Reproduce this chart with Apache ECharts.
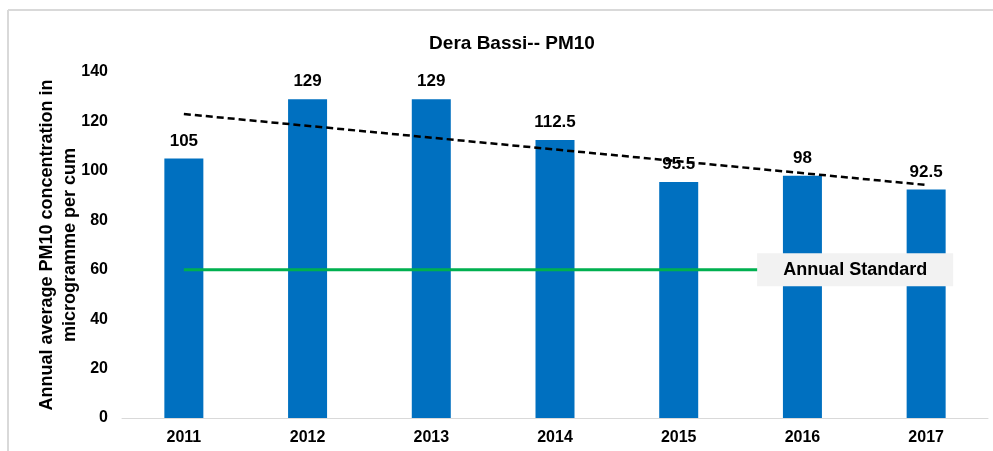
<!DOCTYPE html>
<html>
<head>
<meta charset="utf-8">
<script src="https://cdn.jsdelivr.net/npm/echarts@6/dist/echarts.min.js"></script>
<style>
html,body{margin:0;padding:0;background:#fff;}
#c{width:993px;height:451px;}
</style>
</head>
<body>
<div id="c"></div>
<script>
const categories = ['2011', '2012', '2013', '2014', '2015', '2016', '2017'];
const pm10Values = [105, 129, 129, 112.5, 95.5, 98, 92.5];
const standardValues = [60, 60, 60, 60, 60, 60, 60];
const trendValues = [123, null, null, null, null, null, 94.3];
const yTicks = [0, 20, 40, 60, 80, 100, 120, 140];
const titleText = 'Dera Bassi-- PM10';
const yAxisName = 'Annual average PM10 concentration in\nmicrogramme per cum';
const standardLabel = 'Annual Standard';

const FONT = '"Liberation Sans", Arial, sans-serif';
const chart = echarts.init(document.getElementById('c'), null, {renderer: 'canvas'});

const standardData = standardValues.map(function (v, i) {
  if (i === standardValues.length - 1) {
    return {
      value: v,
      label: {
        show: true,
        formatter: standardLabel,
        position: 'inside',
        offset: [-71, 0],
        fontFamily: FONT, fontWeight: 'bold', fontSize: 18, color: '#000',
        backgroundColor: '#f2f2f2',
        padding: [8, 26, 7, 26]
      }
    };
  }
  return v;
});

chart.setOption({
  animation: false,
  backgroundColor: '#fff',
  title: {
    text: titleText,
    left: 507, top: 29, textAlign: 'center',
    textStyle: {fontFamily: FONT, fontWeight: 'bold', fontSize: 19, color: '#000'}
  },
  graphic: [
    {type: 'line', shape: {x1: 8, y1: 10, x2: 993, y2: 10}, style: {stroke: '#d9d9d9', lineWidth: 2}},
    {type: 'line', shape: {x1: 8, y1: 10, x2: 8, y2: 451}, style: {stroke: '#d9d9d9', lineWidth: 2}}
  ],
  grid: {left: 122, right: 5, top: 72, bottom: 33, containLabel: false},
  xAxis: {
    type: 'category',
    data: categories,
    axisTick: {show: false},
    axisLine: {lineStyle: {color: '#d9d9d9', width: 1}},
    axisLabel: {fontFamily: FONT, fontWeight: 'bold', fontSize: 16, color: '#000', margin: 12}
  },
  yAxis: {
    type: 'value',
    min: yTicks[0], max: yTicks[yTicks.length - 1], interval: yTicks[1] - yTicks[0],
    name: yAxisName,
    nameLocation: 'middle',
    nameGap: 40,
    nameMoveOverlap: false,
    nameTextStyle: {fontFamily: FONT, fontWeight: 'bold', fontSize: 18, color: '#000', lineHeight: 23},
    splitLine: {show: false},
    axisLine: {show: false},
    axisTick: {show: false},
    axisLabel: {fontFamily: FONT, fontWeight: 'bold', fontSize: 16, color: '#000', margin: 14}
  },
  series: [
    {
      type: 'bar',
      data: pm10Values,
      barWidth: 39,
      itemStyle: {color: '#0070c0'},
      label: {
        show: true, position: 'top', distance: 9,
        fontFamily: FONT, fontWeight: 'bold', fontSize: 17, color: '#000'
      },
      z: 2
    },
    {
      type: 'line',
      data: standardData,
      symbol: 'circle', symbolSize: 0, showSymbol: true,
      lineStyle: {color: '#00b050', width: 3},
      itemStyle: {color: '#00b050'},
      z: 3
    },
    {
      type: 'line',
      data: trendValues,
      connectNulls: true,
      symbol: 'none',
      lineStyle: {color: '#000', width: 2.5, type: [7, 4]},
      z: 4
    }
  ]
});
</script>
</body>
</html>
